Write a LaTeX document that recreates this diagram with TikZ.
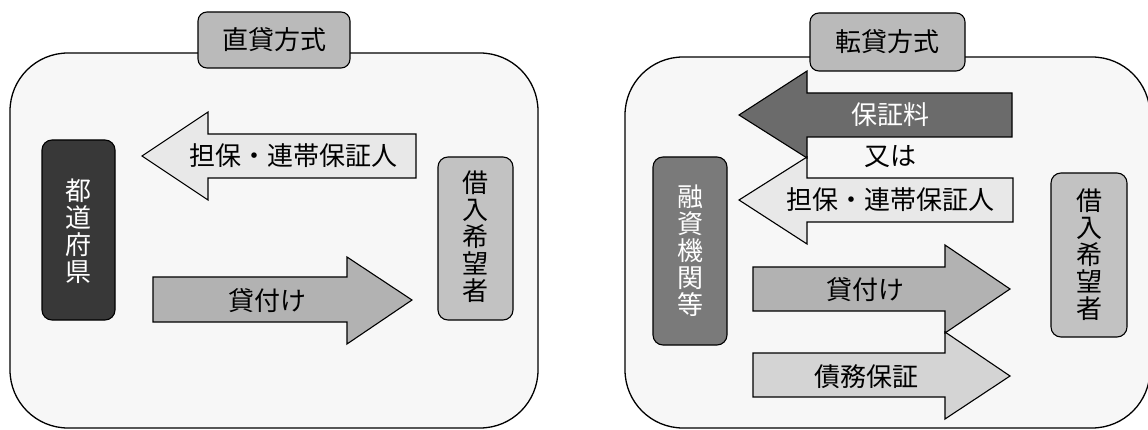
\documentclass[tikz,border=0pt]{standalone}
\usepackage{fontspec}
\setmainfont{Noto Sans CJK JP}
\begin{document}
\begin{tikzpicture}[x=1pt,y=-1pt,
  panel/.style={draw=black,line width=1.3pt,fill=black!3,rounded corners=58pt},
  titlebox/.style={draw=black,line width=1.1pt,fill=black!27,rounded corners=9pt},
  entity/.style={draw=black,line width=1.1pt,rounded corners=10pt},
  blk/.style={draw=black,line width=1.1pt,line join=miter},
  lbl/.style={font=\fontsize{26}{28}\selectfont,inner sep=0pt},
  vlbl/.style={font=\fontsize{26}{27}\selectfont,align=center,inner sep=0pt}]
\useasboundingbox (0,0) rectangle (1148,430);
\clip (0,0) rectangle (1148,430);
\fill[white] (0,0) rectangle (1148,430);

% ---------- left panel: 直貸方式 ----------
\draw[panel] (10,53) rectangle (538,428);
\draw[titlebox] (198,12) rectangle (350,68);
\node[lbl] (t1) at (274,40) {直貸方式};

\draw[entity,fill=black!78] (42,140) rectangle (115,320);
\node[vlbl,text=white] (pref) at (78.5,231) {都\\道\\府\\県};
\draw[entity,fill=black!24] (438,157) rectangle (513,320);
\node[vlbl] (bor1) at (475.5,237) {借\\入\\希\\望\\者};

\draw[blk,fill=black!9] (142,156) -- (208,112) -- (208,134) -- (416,134)
  -- (416,178) -- (208,178) -- (208,200) -- cycle;
\node[lbl] (col1) at (293,156) {担保・連帯保証人};

\draw[blk,fill=black!30] (153,277) -- (347,277) -- (347,257) -- (412,300)
  -- (347,344) -- (347,322) -- (153,322) -- cycle;
\node[lbl] (loan1) at (267,301) {貸付け};

% ---------- right panel: 転貸方式 ----------
\draw[panel] (625,57) rectangle (1150,428);
\draw[titlebox] (810,13) rectangle (965,71);
\node[lbl] (t2) at (887,42) {転貸方式};

\draw[entity,fill=black!52] (653,157) rectangle (727,345);
\node[vlbl,text=white] (inst) at (690,251) {融\\資\\機\\関\\等};
\draw[entity,fill=black!24] (1051,173) rectangle (1127,337);
\node[vlbl] (bor2) at (1089,255) {借\\入\\希\\望\\者};

\draw[blk,fill=black!58] (739,115) -- (807,71) -- (807,93) -- (1012,93)
  -- (1012,137) -- (807,137) -- (807,158) -- cycle;
\node[lbl,text=white] (fee) at (890,115) {保証料};

\node[lbl] (or) at (890,157) {又は};

\draw[blk,fill=black!9] (739,200) -- (807,157) -- (807,178) -- (1013,178)
  -- (1013,222) -- (807,222) -- (807,244) -- cycle;
\node[lbl] (col2) at (890,200) {担保・連帯保証人};

\draw[blk,fill=black!30] (753,267) -- (945,267) -- (945,245) -- (1010,289)
  -- (945,333) -- (945,311) -- (753,311) -- cycle;
\node[lbl] (loan2) at (865,290) {貸付け};

\draw[blk,fill=black!17] (753,353) -- (945,353) -- (945,332) -- (1010,376)
  -- (945,419) -- (945,397) -- (753,397) -- cycle;
\node[lbl] (guar) at (866,377) {債務保証};
\end{tikzpicture}
\end{document}
